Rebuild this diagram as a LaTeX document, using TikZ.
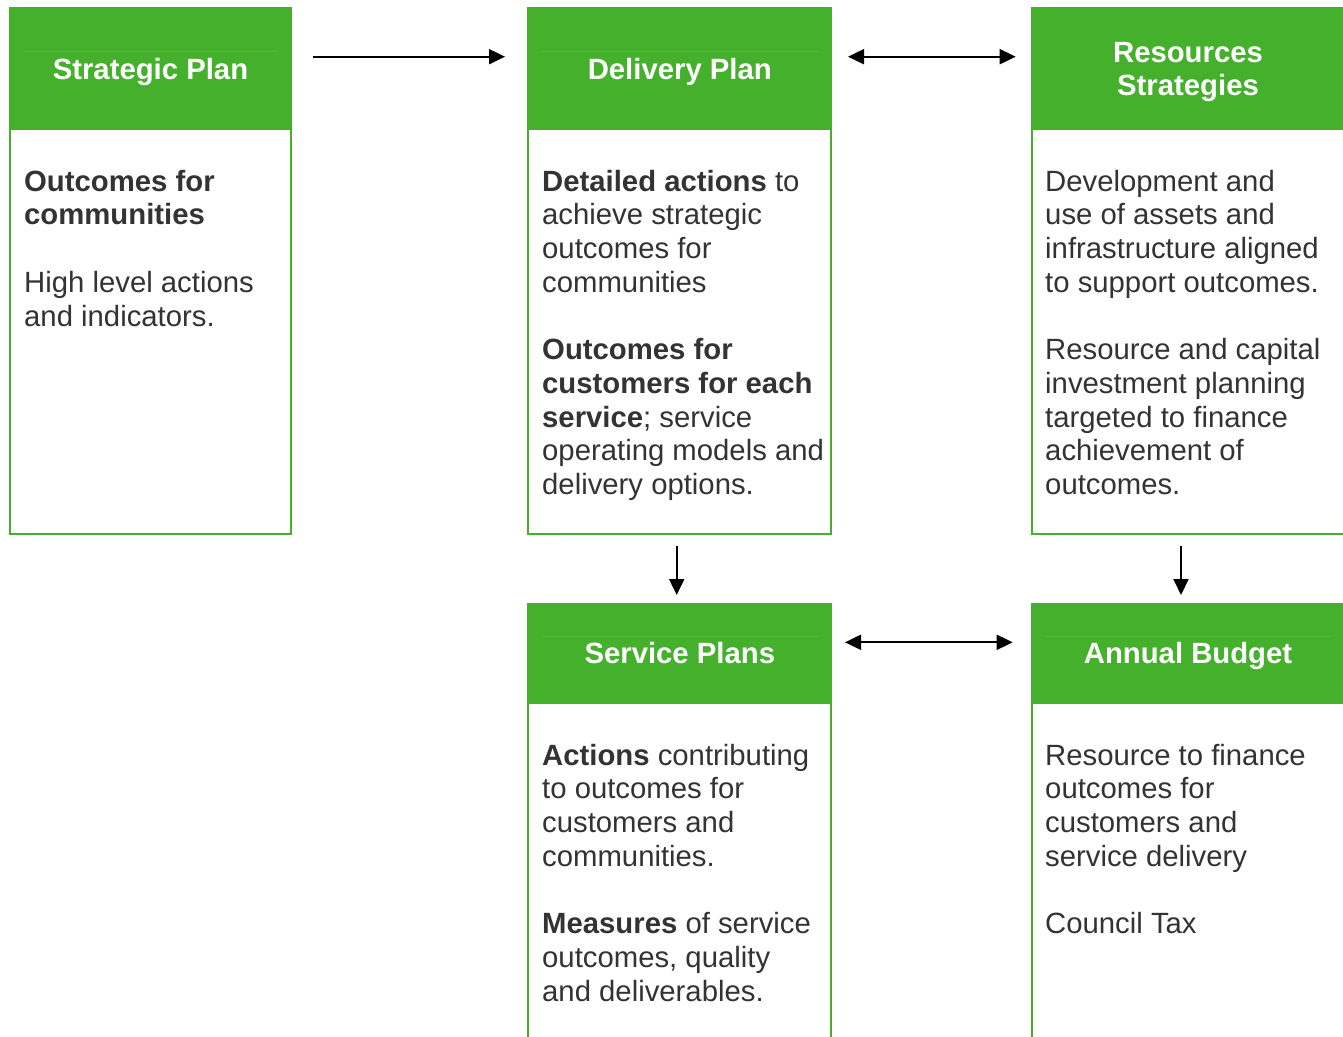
\documentclass[tikz,border=0pt]{standalone}
\usepackage{fontspec}
\setmainfont{Liberation Sans}
\usetikzlibrary{arrows.meta}
\definecolor{boxgreen}{RGB}{69,176,44}
\definecolor{faintgreen}{RGB}{84,186,62}
\definecolor{txtgray}{RGB}{51,51,51}
\tikzset{
  frame/.style={draw=boxgreen, line width=2pt, fill=white, inner sep=0pt, rectangle},
  header/.style={fill=boxgreen, draw=none, inner sep=0pt, rectangle},
  headtext/.style={text=white, font=\fontsize{29.3}{33.7}\selectfont\bfseries, inner sep=0pt, align=center},
  bodytext/.style={text=txtgray, font=\fontsize{29.3}{33.7}\selectfont, inner sep=0pt, align=left, anchor=north west},
  faint/.style={draw=faintgreen, line width=0.8pt},
  conn/.style={line width=2pt, draw=black, -{Triangle[length=16pt,width=15pt]}},
  biconn/.style={line width=2pt, draw=black, {Triangle[length=16pt,width=15pt]}-{Triangle[length=16pt,width=15pt]}}
}
\begin{document}
\begin{tikzpicture}[x=1pt,y=-1pt]
\useasboundingbox (0,0) rectangle (1343,1036);
\clip (0,0) rectangle (1343,1036);
\fill[white] (0,0) rectangle (1343,1036);

% frames
\node[frame, minimum width=281pt, minimum height=526pt] (spbox) at (150.5,271) {};
\node[frame, minimum width=303pt, minimum height=526pt] (dpbox) at (679.8,271) {};
\node[frame, minimum width=312pt, minimum height=526pt] (rsbox) at (1188,271) {};
\node[frame, minimum width=303pt, minimum height=460pt] (svbox) at (679.8,834) {};
\node[frame, minimum width=312pt, minimum height=460pt] (abbox) at (1188,834) {};

% headers
\node[header, minimum width=283pt, minimum height=123pt] (sphead) at (150.5,68.5) {};
\node[header, minimum width=305pt, minimum height=123pt] (dphead) at (679.8,68.5) {};
\node[header, minimum width=314pt, minimum height=123pt] (rshead) at (1188,68.5) {};
\node[header, minimum width=305pt, minimum height=101pt] (svhead) at (679.8,653.5) {};
\node[header, minimum width=314pt, minimum height=101pt] (abhead) at (1188,653.5) {};

% faint lines in headers
\draw[faint] (24,51) -- (277,51);
\draw[faint] (542,51) -- (818,51);
\draw[faint] (543,636) -- (818,636);
\draw[faint] (1046,636) -- (1330,636);

% header texts
\node[headtext, anchor=base] (sptitle) at (150.5,79) {Strategic Plan};
\node[headtext, anchor=base] (dptitle) at (679.8,79) {Delivery Plan};
\node[headtext, anchor=north] (rstitle) at (1188,38) {\rule{0pt}{24pt}Resources\\Strategies};
\node[headtext, anchor=base] (svtitle) at (679.8,663) {Service Plans};
\node[headtext, anchor=base] (abtitle) at (1188,663) {Annual Budget};

% body texts
\node[bodytext] (sptext) at (24,167) {\rule{0pt}{24pt}\textbf{Outcomes for}\\\textbf{communities}\\[33.7pt]High level actions\\and indicators.};
\node[bodytext] (dptext) at (542,167) {\rule{0pt}{24pt}\textbf{Detailed actions} to\\achieve strategic\\outcomes for\\communities\\[33.7pt]\textbf{Outcomes for}\\\textbf{customers for each}\\\textbf{service}; service\\operating models and\\delivery options.};
\node[bodytext] (rstext) at (1045,167) {\rule{0pt}{24pt}Development and\\use of assets and\\infrastructure aligned\\to support outcomes.\\[33.7pt]Resource and capital\\investment planning\\targeted to finance\\achievement of\\outcomes.};
\node[bodytext] (svtext) at (542,741) {\rule{0pt}{24pt}\textbf{Actions} contributing\\to outcomes for\\customers and\\communities.\\[33.7pt]\textbf{Measures} of service\\outcomes, quality\\and deliverables.};
\node[bodytext] (abtext) at (1045,741) {\rule{0pt}{24pt}Resource to finance\\outcomes for\\customers and\\service delivery\\[33.7pt]Council Tax};

% connector end points
\coordinate (a1s) at (312.7,56.7);
\coordinate (a1e) at (505,56.7);
\coordinate (a2s) at (848,56.7);
\coordinate (a2e) at (1015.7,56.7);
\coordinate (a3s) at (676.7,546);
\coordinate (a3e) at (676.7,595);
\coordinate (a4s) at (1181,546);
\coordinate (a4e) at (1181,595);
\coordinate (a5s) at (845,642.3);
\coordinate (a5e) at (1012.7,642.3);

\draw[conn] (a1s) -- (a1e);
\draw[biconn] (a2s) -- (a2e);
\draw[conn] (a3s) -- (a3e);
\draw[conn] (a4s) -- (a4e);
\draw[biconn] (a5s) -- (a5e);
\end{tikzpicture}
\end{document}
